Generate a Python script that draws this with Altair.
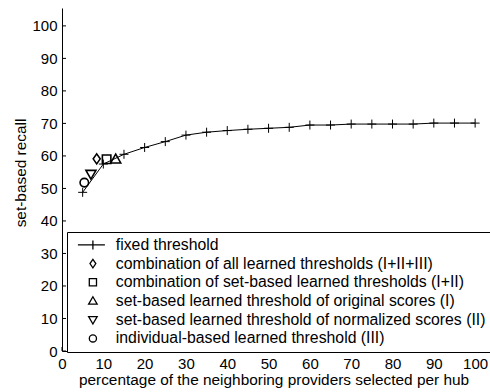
import altair as alt
import pandas as pd

# Fixed-threshold curve: recall for each percentage of neighboring providers
fixed_pct = [5, 10, 15, 20, 25, 30, 35, 40, 45, 50, 55, 60, 65, 70, 75, 80, 85, 90, 95, 100]
fixed_recall = [48.8, 57.5, 60.5, 62.6, 64.4, 66.4, 67.3, 67.8, 68.2, 68.5, 68.8, 69.5,
                69.5, 69.8, 69.8, 69.8, 69.8, 70.1, 70.1, 70.1]

# Learned thresholds: one point each
learned_names = [
    "combination of all learned thresholds (I+II+III)",
    "combination of set-based learned thresholds (I+II)",
    "set-based learned threshold of original scores (I)",
    "set-based learned threshold of normalized scores (II)",
    "individual-based learned threshold (III)",
]
learned_pct = [8.4, 10.8, 13.0, 7.0, 5.4]
learned_recall = [59.1, 59.0, 59.0, 54.4, 51.8]

fixed_name = "fixed threshold"
all_names = [fixed_name] + learned_names

# Marker outlines (custom SVG paths in the unit square)
PLUS = "M-1,0H1M0,-1V1"
DIAMOND = "M0,-1L0.7,0L0,1L-0.7,0Z"
SQUARE = "M-0.85,-0.85H0.85V0.85H-0.85Z"
TRI_UP = "M0,-1L1,0.75L-1,0.75Z"
TRI_DOWN = "M0,1L1,-0.75L-1,-0.75Z"
CIRCLE = "M0.85,0A0.85,0.85,0,1,1,-0.85,0A0.85,0.85,0,1,1,0.85,0Z"
learned_shapes = [DIAMOND, SQUARE, TRI_UP, TRI_DOWN, CIRCLE]

# Legend glyphs: the fixed series shows a line through a plus
LINE_PLUS = "M-3.33,0H2.67M0,-1V1"
LEG_DIAMOND = "M0,-0.95L0.65,0L0,0.95L-0.65,0Z"
LEG_SQUARE = "M-0.8,-0.8H0.8V0.8H-0.8Z"
LEG_TRI_UP = "M0,-0.95L0.95,0.7L-0.95,0.7Z"
LEG_TRI_DOWN = "M0,0.95L0.95,-0.7L-0.95,-0.7Z"
LEG_CIRCLE = "M0.8,0A0.8,0.8,0,1,1,-0.8,0A0.8,0.8,0,1,1,0.8,0Z"
legend_shapes = [LINE_PLUS, LEG_DIAMOND, LEG_SQUARE, LEG_TRI_UP, LEG_TRI_DOWN, LEG_CIRCLE]

x_ticks = list(range(0, 101, 10))
y_ticks = list(range(0, 101, 10))

FONT = "Liberation Sans"
W, H = 428, 343

fixed_df = pd.DataFrame({"pct": fixed_pct, "recall": fixed_recall, "series": fixed_name})
learned_df = pd.DataFrame({"pct": learned_pct, "recall": learned_recall, "series": learned_names})
legend_df = pd.concat([fixed_df.head(1), learned_df], ignore_index=True)

x_scale = alt.Scale(domain=[0, 103.6], nice=False, zero=False)
y_scale = alt.Scale(domain=[0, 105.5], nice=False, zero=False)

x_axis = alt.Axis(
    values=x_ticks, title="percentage of the neighboring providers selected per hub",
    grid=False, ticks=False, tickSize=0, labelPadding=5, labelFontSize=15, labelFont=FONT,
    labelColor="black", domainColor="black", domainWidth=1, titleFont=FONT, titleFontSize=15.4,
    titleFontWeight="normal", titleColor="black", titleX=211.5, titleY=33,
    titleBaseline="alphabetic", labelFlush=False, labelOverlap=False,
)
y_axis = alt.Axis(
    values=y_ticks, title="set-based recall",
    grid=False, ticks=False, tickSize=0, labelPadding=5, labelFontSize=15, labelFont=FONT,
    labelColor="black", domainColor="black", domainWidth=1, titleFont=FONT, titleFontSize=15.4,
    titleFontWeight="normal", titleColor="black", titleX=-37, titleY=164.5,
    titleBaseline="alphabetic", labelFlush=False, labelOverlap=False,
)

# Every layer shares the same scale and axis definitions so the axes merge cleanly
X = alt.X("pct:Q", scale=x_scale, axis=x_axis)
Y = alt.Y("recall:Q", scale=y_scale, axis=y_axis)

curve = alt.Chart(fixed_df).mark_line(color="black", strokeWidth=1).encode(x=X, y=Y)

plus_marks = alt.Chart(fixed_df).mark_point(
    shape=PLUS, size=81, filled=False, color="black", strokeWidth=1, opacity=1
).encode(x=X, y=Y)

learned_marks = alt.Chart(learned_df).mark_point(
    size=100, filled=False, color="black", strokeWidth=1.6, opacity=1
).encode(
    x=X, y=Y,
    shape=alt.Shape("series:N", scale=alt.Scale(domain=learned_names, range=learned_shapes),
                    legend=None),
)

# Invisible layer that only carries the legend
legend_marks = alt.Chart(legend_df).mark_point(
    size=81, filled=False, color="black", strokeWidth=1.3, opacity=0
).encode(
    x=X, y=Y,
    shape=alt.Shape(
        "series:N",
        scale=alt.Scale(domain=all_names, range=legend_shapes),
        legend=alt.Legend(
            title=None, orient="none", legendX=5, legendY=224, direction="vertical",
            labelFont=FONT, labelFontSize=15.8, labelColor="black", labelLimit=0,
            symbolSize=81, symbolStrokeColor="black", symbolFillColor="transparent",
            symbolStrokeWidth=1.3, symbolOpacity=1, symbolOffset=13, labelOffset=15,
            strokeColor="black", fillColor="white", padding=5, rowPadding=1.7,
        ),
    ),
)

# Inward tick marks along both axes
y_tick_df = pd.DataFrame({"recall": y_ticks})
x_tick_df = pd.DataFrame({"pct": x_ticks})
y_tick_marks = alt.Chart(y_tick_df).mark_rule(color="black", strokeWidth=1).encode(
    y=Y, x=alt.value(0), x2=alt.value(4)
)
x_tick_marks = alt.Chart(x_tick_df).mark_rule(color="black", strokeWidth=1).encode(
    x=X, y=alt.value(H), y2=alt.value(H - 4)
)

chart = alt.layer(
    curve, y_tick_marks, x_tick_marks, plus_marks, learned_marks, legend_marks
).resolve_scale(shape="independent").properties(
    width=W, height=H,
    autosize=alt.AutoSizeParams(type="none"),
    padding={"left": 62, "top": 8, "right": 0, "bottom": 41},
    background="white",
).configure_view(stroke=None)

chart.save("out.html", embed_options={"renderer": "svg", "actions": False})
